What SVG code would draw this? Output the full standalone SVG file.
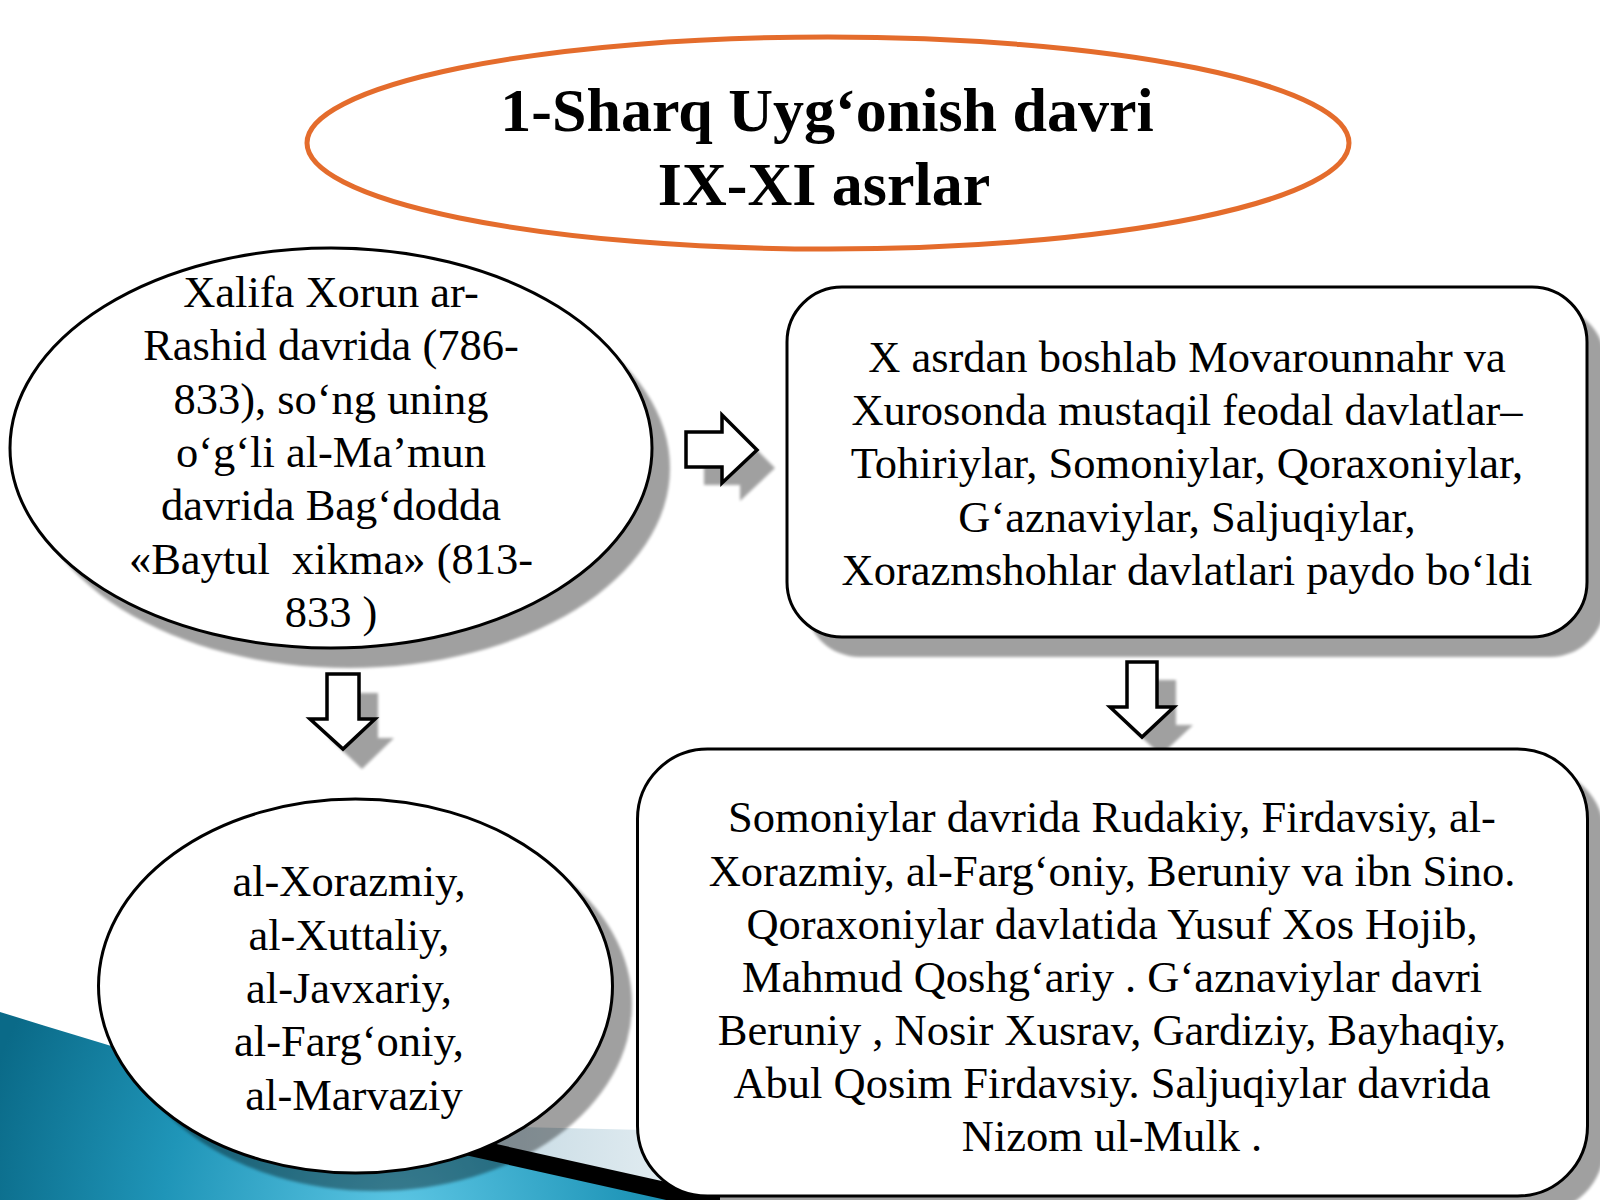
<svg xmlns="http://www.w3.org/2000/svg" width="1600" height="1200" viewBox="0 0 1600 1200">
<defs>
<style>
.shape{fill:#ffffff;stroke:#000000;stroke-width:3}
.shadow{fill:#000000;opacity:0.37}
.arrow{fill:#ffffff;stroke:#000000;stroke-width:3.5;stroke-linejoin:miter}
text{font-family:"Liberation Serif","Times New Roman",serif;fill:#000000}
.body{font-size:44.5px;text-anchor:middle}
.title{font-size:62px;font-weight:bold;text-anchor:middle}
</style>
<radialGradient id="teal" cx="400" cy="1215" r="430" gradientUnits="userSpaceOnUse">
<stop offset="0" stop-color="#5cc6e4"/>
<stop offset="0.55" stop-color="#1f95b8"/>
<stop offset="1" stop-color="#0a6a88"/>
</radialGradient>
<linearGradient id="pale" x1="0" y1="0" x2="1" y2="0">
<stop offset="0" stop-color="#c3d8e2"/>
<stop offset="1" stop-color="#e6eff3"/>
</linearGradient>
<filter id="soft" x="-5%" y="-5%" width="110%" height="110%"><feGaussianBlur stdDeviation="1.5"/></filter>
</defs>
<rect width="1600" height="1200" fill="#ffffff"/>
<g id="background">
<path d="M470,1126 L645,1130 L700,1200 L560,1200 Z" fill="url(#pale)"/>
<path d="M0,1012 C150,1058 300,1105 440,1135 L720,1200 L0,1200 Z" fill="url(#teal)"/>
<path d="M420,1127 L720,1194 L720,1212 L420,1145 Z" fill="#000000"/>
</g>
<g id="connectors">
<polygon class="shadow" filter="url(#soft)" points="704,450 740,450 740,433 775,468 740,501 740,485 704,485"/>
<polygon class="arrow" points="686,432 722,432 722,415 757,450 722,483 722,467 686,467"/>
<polygon class="shadow" filter="url(#soft)" points="346,693 378,693 378,738 394,738 362,769 329,738 346,738"/>
<polygon class="arrow" points="327,674 359,674 359,719 375,719 343,749 310,719 327,719"/>
<polygon class="shadow" filter="url(#soft)" points="1146,680 1176,680 1176,725 1193,725 1161,755 1128,725 1146,725"/>
<polygon class="arrow" points="1127,662 1157,662 1157,707 1174,707 1142,737 1110,707 1127,707"/>
</g>
<g id="title">
<ellipse cx="828" cy="143" rx="521" ry="106" fill="#ffffff" stroke="#E46C2C" stroke-width="5"/>
<text class="title" x="827" y="131">1-Sharq Uyg‘onish davri</text>
<text class="title" x="824" y="205">IX-XI asrlar</text>
</g>
<g id="node-baytul-hikma">
<ellipse class="shadow" filter="url(#soft)" cx="349" cy="468" rx="321" ry="200"/>
<ellipse class="shape" cx="331" cy="448" rx="321" ry="200"/>
<text class="body" x="331" y="307">Xalifa Xorun ar-</text>
<text class="body" x="331" y="360">Rashid davrida (786-</text>
<text class="body" x="331" y="414">833), so‘ng uning</text>
<text class="body" x="331" y="467">o‘g‘li al-Ma’mun</text>
<text class="body" x="331" y="520">davrida Bag‘dodda</text>
<text class="body" x="331" y="574">«Baytul&#160; xikma» (813-</text>
<text class="body" x="331" y="627">833 )</text>
</g>
<g id="node-davlatlar">
<rect class="shadow" filter="url(#soft)" x="805" y="307" width="800" height="350" rx="55" ry="55"/>
<rect class="shape" x="787" y="287" width="800" height="350" rx="55" ry="55"/>
<text class="body" x="1187" y="372">X asrdan boshlab Movarounnahr va</text>
<text class="body" x="1187" y="425">Xurosonda mustaqil feodal davlatlar–</text>
<text class="body" x="1187" y="478">Tohiriylar, Somoniylar, Qoraxoniylar,</text>
<text class="body" x="1187" y="532">G‘aznaviylar, Saljuqiylar,</text>
<text class="body" x="1187" y="585">Xorazmshohlar davlatlari paydo bo‘ldi</text>
</g>
<g id="node-olimlar">
<ellipse class="shadow" filter="url(#soft)" cx="375" cy="1004" rx="257" ry="187"/>
<ellipse class="shape" cx="355.5" cy="986" rx="257" ry="187"/>
<text class="body" x="349" y="896">al-Xorazmiy,</text>
<text class="body" x="349" y="950">al-Xuttaliy,</text>
<text class="body" x="349" y="1003">al-Javxariy,</text>
<text class="body" x="349" y="1056">al-Farg‘oniy,</text>
<text class="body" x="354" y="1110">al-Marvaziy</text>
</g>
<g id="node-namoyandalar">
<rect class="shadow" filter="url(#soft)" x="655" y="767" width="950" height="447" rx="70" ry="70"/>
<rect class="shape" x="637.5" y="749" width="950" height="447" rx="70" ry="70"/>
<text class="body" x="1112" y="832">Somoniylar davrida Rudakiy, Firdavsiy, al-</text>
<text class="body" x="1112" y="886">Xorazmiy, al-Farg‘oniy, Beruniy va ibn Sino.</text>
<text class="body" x="1112" y="939">Qoraxoniylar davlatida Yusuf Xos Hojib,</text>
<text class="body" x="1112" y="992">Mahmud Qoshg‘ariy . G‘aznaviylar davri</text>
<text class="body" x="1112" y="1045">Beruniy , Nosir Xusrav, Gardiziy, Bayhaqiy,</text>
<text class="body" x="1112" y="1098">Abul Qosim Firdavsiy. Saljuqiylar davrida</text>
<text class="body" x="1112" y="1151">Nizom ul-Mulk .</text>
</g>
</svg>
